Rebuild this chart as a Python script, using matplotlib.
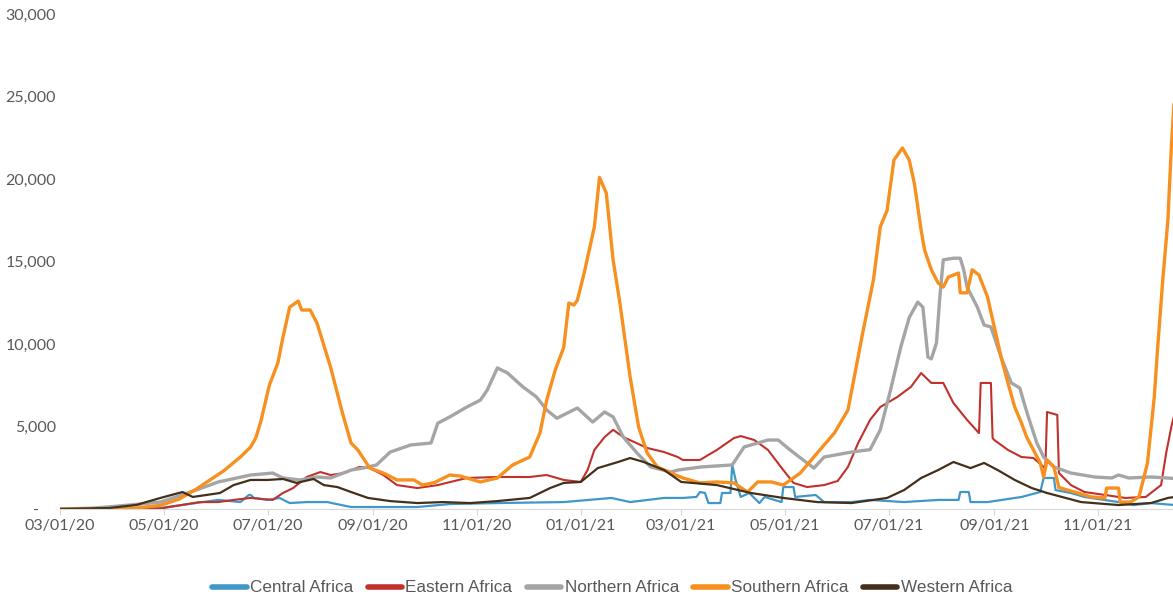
import numpy as np
import pandas as pd
import matplotlib
matplotlib.use("Agg")
import matplotlib.pyplot as plt
import matplotlib.dates as mdates

# daily new cases (7-day avg) by African region
central_dates = ["2020-03-01", "2020-04-01", "2020-04-29", "2020-06-02", "2020-06-15", "2020-06-20",
                 "2020-06-21", "2020-06-23", "2020-07-01", "2020-07-08", "2020-07-14", "2020-07-24",
                 "2020-08-05", "2020-08-19", "2020-09-07", "2020-09-27", "2020-10-16", "2020-11-13",
                 "2020-12-22", "2021-01-19", "2021-01-30", "2021-02-19", "2021-03-02", "2021-03-10",
                 "2021-03-12", "2021-03-15", "2021-03-17", "2021-03-24", "2021-03-25", "2021-03-30",
                 "2021-03-31", "2021-04-02", "2021-04-05", "2021-04-10", "2021-04-16", "2021-04-19",
                 "2021-04-29", "2021-04-30", "2021-05-06", "2021-05-07", "2021-05-19", "2021-05-24",
                 "2021-06-09", "2021-06-20", "2021-07-10", "2021-07-30", "2021-08-11", "2021-08-12",
                 "2021-08-17", "2021-08-18", "2021-08-28", "2021-09-17", "2021-09-28", "2021-09-30",
                 "2021-10-06", "2021-10-07", "2021-10-16", "2021-10-24", "2021-11-13", "2021-11-22",
                 "2021-12-02", "2021-12-16"]
central_vals = [0, 10, 60, 550, 420, 850,
                850, 670, 550, 670, 360, 420,
                420, 120, 120, 120, 300, 360,
                420, 670, 420, 670, 670, 730,
                1030, 970, 360, 360, 970, 970,
                2670, 1760, 730, 970, 360, 730,
                420, 1330, 1330, 730, 850, 420,
                420, 550, 420, 550, 550, 1030,
                1030, 420, 420, 730, 1030, 1880,
                1880, 1150, 970, 730, 420, 240,
                360, 240]

eastern_dates = ["2020-03-01", "2020-04-01", "2020-04-29", "2020-05-22", "2020-06-02", "2020-06-11",
                 "2020-06-21", "2020-07-04", "2020-07-10", "2020-07-16", "2020-07-24", "2020-08-01",
                 "2020-08-07", "2020-08-15", "2020-08-24", "2020-08-30", "2020-09-07", "2020-09-15",
                 "2020-09-27", "2020-10-09", "2020-10-26", "2020-11-13", "2020-12-02", "2020-12-12",
                 "2020-12-22", "2021-01-01", "2021-01-05", "2021-01-09", "2021-01-15", "2021-01-20",
                 "2021-01-26", "2021-02-09", "2021-02-19", "2021-02-27", "2021-03-02", "2021-03-12",
                 "2021-03-22", "2021-04-01", "2021-04-05", "2021-04-13", "2021-04-21", "2021-04-30",
                 "2021-05-06", "2021-05-14", "2021-05-24", "2021-06-01", "2021-06-07", "2021-06-13",
                 "2021-06-20", "2021-06-26", "2021-07-06", "2021-07-14", "2021-07-20", "2021-07-26",
                 "2021-08-02", "2021-08-08", "2021-08-16", "2021-08-23", "2021-08-24", "2021-08-30",
                 "2021-08-31", "2021-09-01", "2021-09-09", "2021-09-17", "2021-09-24", "2021-09-30",
                 "2021-10-01", "2021-10-02", "2021-10-08", "2021-10-09", "2021-10-16", "2021-10-24",
                 "2021-11-05", "2021-11-17", "2021-11-29", "2021-12-08", "2021-12-11", "2021-12-14",
                 "2021-12-16"]
eastern_vals = [0, 10, 30, 420, 420, 550,
                670, 550, 970, 1270, 1940, 2240,
                2060, 2180, 2550, 2480, 2060, 1450,
                1270, 1450, 1880, 1940, 1940, 2060,
                1760, 1640, 2360, 3580, 4360, 4800,
                4360, 3700, 3450, 3150, 2970, 2970,
                3580, 4300, 4420, 4180, 3580, 2360,
                1580, 1330, 1450, 1700, 2550, 4000,
                5400, 6180, 6790, 7400, 8240, 7640,
                7640, 6420, 5400, 4600, 7640, 7640,
                4300, 4180, 3580, 3150, 3090, 2550,
                2500, 5880, 5700, 2180, 1450, 1030,
                850, 670, 730, 1450, 3400, 4970,
                5820]

northern_dates = ["2020-03-01", "2020-03-20", "2020-04-01", "2020-04-15", "2020-04-29", "2020-05-10",
                  "2020-05-20", "2020-05-28", "2020-06-02", "2020-06-21", "2020-07-04", "2020-07-10",
                  "2020-07-20", "2020-07-30", "2020-08-07", "2020-08-19", "2020-08-26", "2020-09-03",
                  "2020-09-11", "2020-09-23", "2020-10-05", "2020-10-09", "2020-10-16", "2020-10-26",
                  "2020-11-03", "2020-11-07", "2020-11-13", "2020-11-19", "2020-11-28", "2020-12-06",
                  "2020-12-12", "2020-12-18", "2020-12-30", "2021-01-08", "2021-01-15", "2021-01-20",
                  "2021-01-26", "2021-02-03", "2021-02-11", "2021-02-23", "2021-02-27", "2021-03-13",
                  "2021-03-31", "2021-04-07", "2021-04-21", "2021-04-27", "2021-05-04", "2021-05-14",
                  "2021-05-18", "2021-05-24", "2021-06-09", "2021-06-20", "2021-06-26", "2021-07-02",
                  "2021-07-08", "2021-07-13", "2021-07-18", "2021-07-21", "2021-07-24", "2021-07-26",
                  "2021-07-29", "2021-07-31", "2021-08-02", "2021-08-08", "2021-08-12", "2021-08-14",
                  "2021-08-16", "2021-08-22", "2021-08-26", "2021-08-30", "2021-09-05", "2021-09-11",
                  "2021-09-16", "2021-09-18", "2021-09-21", "2021-09-26", "2021-09-30", "2021-10-06",
                  "2021-10-16", "2021-10-30", "2021-11-09", "2021-11-13", "2021-11-19", "2021-12-02",
                  "2021-12-16"]
northern_vals = [0, 50, 150, 280, 420, 800,
                 1150, 1450, 1640, 2060, 2180, 1880,
                 1760, 1940, 1880, 2360, 2480, 2670,
                 3450, 3880, 4000, 5200, 5580, 6180,
                 6600, 7200, 8550, 8240, 7400, 6790,
                 6000, 5500, 6120, 5270, 5880, 5580,
                 4360, 3400, 2550, 2240, 2360, 2550,
                 2670, 3760, 4180, 4180, 3580, 2790,
                 2480, 3150, 3450, 3600, 4800, 7200,
                 9800, 11600, 12540, 12240, 9200, 9100,
                 10060, 12850, 15100, 15200, 15200, 14500,
                 13450, 12240, 11150, 11030, 9200, 7640,
                 7330, 6600, 5580, 4000, 3150, 2550,
                 2180, 1940, 1880, 2060, 1880, 1940,
                 1850]

southern_dates = ["2020-03-01", "2020-04-01", "2020-04-15", "2020-04-29", "2020-05-10", "2020-05-20",
                  "2020-05-28", "2020-06-05", "2020-06-15", "2020-06-21", "2020-06-24", "2020-06-27",
                  "2020-07-02", "2020-07-07", "2020-07-10", "2020-07-14", "2020-07-19", "2020-07-21",
                  "2020-07-26", "2020-07-30", "2020-08-07", "2020-08-14", "2020-08-19", "2020-08-23",
                  "2020-08-30", "2020-09-07", "2020-09-15", "2020-09-25", "2020-09-30", "2020-10-07",
                  "2020-10-16", "2020-10-22", "2020-11-03", "2020-11-13", "2020-11-22", "2020-12-02",
                  "2020-12-08", "2020-12-12", "2020-12-17", "2020-12-22", "2020-12-25", "2020-12-28",
                  "2020-12-30", "2021-01-03", "2021-01-09", "2021-01-12", "2021-01-16", "2021-01-20",
                  "2021-01-24", "2021-01-30", "2021-02-04", "2021-02-09", "2021-02-15", "2021-02-23",
                  "2021-03-02", "2021-03-12", "2021-03-22", "2021-04-01", "2021-04-09", "2021-04-15",
                  "2021-04-23", "2021-04-30", "2021-05-10", "2021-05-20", "2021-05-30", "2021-06-07",
                  "2021-06-16", "2021-06-22", "2021-06-26", "2021-06-30", "2021-07-04", "2021-07-09",
                  "2021-07-13", "2021-07-16", "2021-07-20", "2021-07-22", "2021-07-26", "2021-07-30",
                  "2021-08-02", "2021-08-05", "2021-08-11", "2021-08-12", "2021-08-16", "2021-08-19",
                  "2021-08-23", "2021-08-28", "2021-09-01", "2021-09-05", "2021-09-09", "2021-09-13",
                  "2021-09-17", "2021-09-20", "2021-09-24", "2021-09-28", "2021-09-30", "2021-10-02",
                  "2021-10-06", "2021-10-09", "2021-10-20", "2021-10-28", "2021-11-05", "2021-11-06",
                  "2021-11-13", "2021-11-14", "2021-11-20", "2021-11-25", "2021-11-30", "2021-12-04",
                  "2021-12-06", "2021-12-09", "2021-12-12", "2021-12-14", "2021-12-16"]
southern_vals = [0, 20, 60, 220, 600, 1200,
                 1750, 2300, 3150, 3760, 4300, 5300,
                 7500, 8850, 10400, 12240, 12600, 12060,
                 12060, 11270, 8600, 5800, 4000, 3580,
                 2480, 2180, 1760, 1760, 1450, 1600,
                 2060, 2000, 1640, 1880, 2670, 3150,
                 4600, 6600, 8420, 9800, 12480, 12360,
                 12660, 14300, 17100, 20100, 19150, 15100,
                 12480, 8000, 4970, 3400, 2550, 2180,
                 1880, 1580, 1640, 1580, 1030, 1640,
                 1640, 1450, 2180, 3400, 4600, 6000,
                 10850, 13900, 17100, 18100, 21150, 21880,
                 21150, 19750, 16900, 15700, 14500, 13700,
                 13450, 14060, 14300, 13100, 13100, 14500,
                 14180, 12850, 11030, 9200, 7640, 6180,
                 5200, 4360, 3580, 2790, 1940, 2970,
                 2550, 1300, 970, 730, 670, 1270,
                 1270, 420, 420, 730, 2790, 6800,
                 9800, 13900, 17500, 21900, 25200]

western_dates = ["2020-03-01", "2020-03-30", "2020-04-15", "2020-04-29", "2020-05-12", "2020-05-18",
                 "2020-06-03", "2020-06-11", "2020-06-21", "2020-07-01", "2020-07-10", "2020-07-18",
                 "2020-07-28", "2020-08-03", "2020-08-11", "2020-08-19", "2020-08-29", "2020-09-11",
                 "2020-09-27", "2020-10-12", "2020-10-28", "2020-11-13", "2020-12-02", "2020-12-14",
                 "2020-12-22", "2021-01-01", "2021-01-11", "2021-01-23", "2021-01-30", "2021-02-07",
                 "2021-02-19", "2021-03-01", "2021-03-22", "2021-04-11", "2021-04-30", "2021-05-20",
                 "2021-06-09", "2021-06-30", "2021-07-10", "2021-07-20", "2021-07-30", "2021-08-08",
                 "2021-08-18", "2021-08-26", "2021-09-03", "2021-09-13", "2021-09-23", "2021-10-02",
                 "2021-10-22", "2021-11-13", "2021-12-02", "2021-12-12", "2021-12-16"]
western_vals = [0, 60, 250, 670, 1030, 730,
                970, 1450, 1760, 1760, 1820, 1580,
                1820, 1450, 1330, 1030, 670, 480,
                360, 420, 360, 480, 670, 1270,
                1580, 1640, 2480, 2850, 3090, 2850,
                2360, 1640, 1450, 970, 670, 420,
                360, 670, 1150, 1880, 2360, 2850,
                2480, 2790, 2360, 1760, 1270, 970,
                420, 240, 360, 670, 730]

regions = ["Central Africa", "Eastern Africa", "Northern Africa", "Southern Africa", "Western Africa"]
colors = ["#4197C8", "#C0312B", "#A5A5A5", "#F7901E", "#44301A"]
widths = [1.6, 1.5, 2.4, 2.4, 1.6]
series = [(central_dates, central_vals), (eastern_dates, eastern_vals),
          (northern_dates, northern_vals), (southern_dates, southern_vals),
          (western_dates, western_vals)]

y_ticks = [0, 5000, 10000, 15000, 20000, 25000, 30000]
y_labels = ["-    ", "5,000", "10,000", "15,000", "20,000", "25,000", "30,000"]

fig = plt.figure(figsize=(11.73, 6), dpi=100)
ax = fig.add_axes([60 / 1173, 91 / 600, 1113 / 1173, 495 / 600])

for (d, v), name, c, lw in zip(series, regions, colors, widths):
    ax.plot(pd.to_datetime(d), v, color=c, lw=lw, label=name, solid_joinstyle="round")

ax.set_xlim(pd.Timestamp("2020-03-01"), pd.Timestamp("2021-12-15"))
ax.set_ylim(0, 30000)
ax.set_yticks(y_ticks)
ax.set_yticklabels(y_labels)
ax.xaxis.set_major_locator(mdates.MonthLocator(bymonth=[1, 3, 5, 7, 9, 11]))
ax.xaxis.set_major_formatter(mdates.DateFormatter("%m/%d/%y"))

for s in ["top", "right", "left"]:
    ax.spines[s].set_visible(False)
ax.spines["bottom"].set_color("#D9D9D9")
ax.tick_params(axis="y", length=0, pad=3, labelsize=11.5, labelcolor="#595959")
ax.tick_params(axis="x", length=4, color="#D9D9D9", pad=3, labelsize=11.5, labelcolor="#595959")
for lab in ax.get_xticklabels() + ax.get_yticklabels():
    lab.set_family("Lato")

leg = fig.legend(loc="center", bbox_to_anchor=(0.522, 1 - 588 / 600), ncol=5, frameon=False,
                 handlelength=2.0, handletextpad=0.2, columnspacing=0.85,
                 prop={"family": "Liberation Sans", "size": 12.3})
for t in leg.get_texts():
    t.set_color("#595959")
for l in leg.get_lines():
    l.set_linewidth(4)
    l.set_solid_capstyle("round")

fig.savefig("out.png", dpi=100)
